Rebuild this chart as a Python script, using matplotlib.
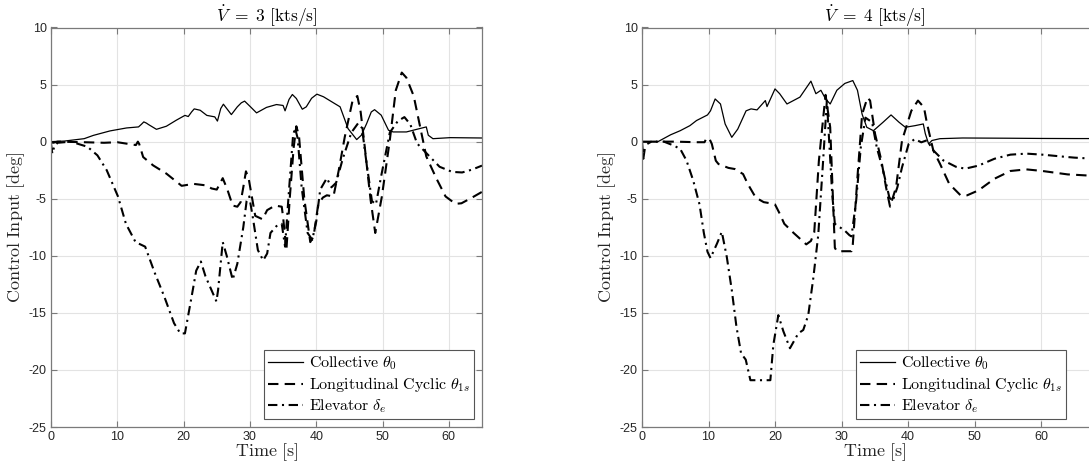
import matplotlib
matplotlib.use("Agg")
import matplotlib.pyplot as plt

plt.rcParams['mathtext.fontset'] = 'cm'

# ---------------- data: V_dot = 3 kts/s ----------------
t3_coll = [0, 2, 5, 6.4, 8.9, 11.4, 13.2, 13.6, 14.0, 14.4, 14.7, 15.9, 17.4, 18.9, 20.2, 20.7, 21.2, 21.6, 22.5,
           23.5, 24.7, 25.1, 25.6, 26.0, 26.7, 27.2, 28.1, 28.7, 29.2, 30.0, 31.0, 32.5, 34.0, 35.0, 35.3, 35.9,
           36.4, 37.0, 37.9, 38.5, 39.3, 40.1, 41.1, 42.6, 43.6, 44.8, 46.1, 46.8, 47.6, 48.3, 48.8, 49.8,
           50.9, 51.6, 53.6, 56.6, 56.9, 57.6, 60.2, 65]
v3_coll = [0, 0.05, 0.26, 0.55, 0.94, 1.2, 1.29, 1.5, 1.73, 1.62, 1.5, 1.08, 1.35, 1.88, 2.3, 2.2, 2.6, 2.87, 2.75,
           2.3, 2.17, 1.8, 2.9, 3.28, 2.75, 2.37, 3.05, 3.4, 3.55, 3.1, 2.52, 3.0, 3.25, 3.17, 2.7, 3.7,
           4.13, 3.78, 2.84, 3.05, 3.8, 4.16, 3.93, 3.4, 3.05, 1.14, 0.18, 0.56, 1.58, 2.6, 2.8, 2.32,
           1.0, 0.85, 0.85, 1.29, 0.56, 0.26, 0.35, 0.32]

t3_cyc = [0, 0.3, 1, 5, 8, 10, 12.8, 13.1, 13.3, 13.9, 15.4, 17.4, 19.7, 21.5, 23.5, 24.2, 25.0, 25.9, 26.6,
          27.4, 28.1, 28.6, 29.0, 29.4, 29.8, 30.8, 31.9, 32.6, 33.8, 34.8, 35.0, 35.5, 36.0, 36.6, 37.0,
          37.4, 38.2, 39.1, 39.6, 40.3, 41.0, 41.6, 42.6, 43.4, 44.3, 45.5, 46.2, 46.7, 47.2, 48.2, 48.9,
          49.9, 51.1, 52.0, 52.9, 53.6, 54.7, 56.6, 58.1, 59.5, 61.0, 61.9, 63.5, 65]
v3_cyc = [0, -0.1, 0, -0.05, -0.1, -0.05, -0.3, 0.0, -0.2, -1.35, -2.08, -2.8, -3.87, -3.7, -3.84, -4.1, -4.2,
          -3.2, -4.2, -5.6, -5.7, -5.3, -4.0, -2.6, -3.2, -6.5, -6.8, -6.0, -5.6, -5.7, -6.6, -9.5, -5.0,
          -0.5, 1.35, 0.5, -5.0, -8.8, -8.3, -5.5, -4.9, -4.7, -4.8, -2.5, 0.4, 3.65, 4.0, 2.6, 0.15, -5.1,
          -8.0, -4.8, 0.15, 4.5, 6.05, 5.6, 4.0, -1.3, -3.2, -4.8, -5.45, -5.4, -4.9, -4.4]

t3_elev = [0, 0.2, 0.5, 1, 3, 5.5, 7, 8.4, 10.1, 11.3, 12.75, 14.2, 15.65, 17.1, 18.55, 19.5, 20.2, 21.2, 21.9,
           22.6, 23.3, 24.95, 25.2, 25.9, 26.5, 27.4, 28.1, 29.0, 29.5, 29.9, 30.4, 31.2, 32.0, 32.6, 33.1,
           34.0, 34.8, 35.3, 35.8, 36.5, 36.8, 37.2, 37.8, 38.7, 39.4, 40.0, 40.6, 41.6, 42.3, 43.0, 44.0,
           45.3, 46.3, 46.9, 47.5, 48.4, 49.0, 49.8, 51.1, 52.3, 53.3, 54.2, 55.2, 56.6, 58.6, 60.5, 62,
           63.5, 65]
v3_elev = [-0.2, -1.05, -0.4, -0.1, 0, -0.45, -1.2, -2.5, -4.8, -7.2, -8.8, -9.2, -11.5, -13.6, -15.9, -16.8,
           -16.8, -13.6, -11.3, -10.5, -11.8, -14.0, -13.0, -8.8, -10.0, -12.1, -10.7, -7.5, -5.2, -4.8,
           -6.5, -9.5, -10.4, -9.8, -8.0, -7.4, -7.2, -9.2, -5.0, 0.5, 1.2, 0.3, -4.0, -8.0, -8.6, -7.0,
           -4.2, -3.2, -4.0, -3.6, -1.5, 0.8, 1.6, 1.2, -1.5, -5.2, -5.5, -3.0, 0.8, 1.8, 2.15, 1.5, -0.15,
           -1.0, -2.2, -2.65, -2.7, -2.45, -2.1]

# ---------------- data: V_dot = 4 kts/s ----------------
t4_coll = [0, 2.4, 4.3, 5.75, 7.2, 8.2, 9.85, 10.3, 11.0, 11.8, 12.5, 13.5, 14.4, 15.65, 16.4, 17.3, 18.55,
           18.8, 20.0, 20.7, 21.8, 23.75, 25.4, 26.15, 26.9, 27.6, 28.3, 29.3, 30.5, 31.7, 32.4, 33.1, 33.8,
           34.8, 36.25, 37.45, 38.65, 39.6, 41.05, 42.3, 42.6, 43.1, 43.6, 44.8, 48.2, 55, 60, 65, 68]
v4_coll = [0, 0, 0.6, 0.96, 1.4, 1.85, 2.34, 2.7, 3.74, 3.3, 1.55, 0.38, 1.1, 2.7, 2.87, 2.78, 3.6, 3.07,
           4.62, 4.2, 3.3, 3.9, 5.3, 4.2, 4.5, 3.75, 3.3, 4.5, 5.1, 5.35, 4.5, 2.4, 1.26, 0.96, 1.7, 2.34,
           1.7, 1.26, 1.4, 1.55, 0.7, -0.2, 0.1, 0.26, 0.32, 0.3, 0.28, 0.27, 0.27]

t4_cyc = [0, 0.2, 0.5, 1.4, 5, 8.2, 9.4, 9.7, 10.1, 10.5, 11.1, 11.5, 13.0, 13.96, 15.2, 15.9, 17.1, 18.3,
          19.3, 20.0, 20.7, 21.4, 22.8, 24.7, 25.4, 25.9, 26.6, 27.6, 28.3, 29.0, 29.3, 31.5, 31.7, 32.4,
          33.1, 33.9, 34.3, 35.05, 36.0, 36.7, 37.3, 38.2, 39.1, 40.5, 41.5, 42.4, 42.85, 43.8, 44.8, 46.2,
          47.9, 48.9, 50.6, 53.0, 55.4, 57.8, 60.2, 64, 65, 68]
v4_cyc = [0, -1.5, -0.3, 0, 0, -0.05, -0.05, 0.3, 0.3, -0.2, -1.67, -1.96, -2.3, -2.4, -2.84, -3.7, -4.9,
          -5.3, -5.4, -5.5, -6.3, -7.2, -8.0, -9.0, -8.7, -7.95, -1.67, 4.1, 1.26, -9.3, -9.6, -9.6, -9.0,
          -3.1, 2.4, 3.85, 3.6, 0.67, -1.67, -4.0, -5.7, -4.0, 0.1, 2.7, 3.6, 3.0, 1.6, -0.76, -1.93, -3.7,
          -4.7, -4.7, -4.27, -3.25, -2.57, -2.43, -2.57, -2.87, -2.9, -3.0]

t4_elev = [0, 3.3, 4.8, 5.75, 6.7, 7.7, 8.65, 9.3, 9.85, 10.3, 11.3, 12.0, 12.75, 13.5, 14.2, 14.9, 15.6,
           16.3, 19.3, 19.75, 20.5, 21.25, 22.25, 23.5, 24.25, 25.0, 25.75, 26.5, 27.2, 27.8, 28.6, 29.0,
           30.5, 31.2, 31.5, 32.2, 32.9, 33.6, 34.6, 35.3, 36.25, 37.2, 37.7, 38.4, 39.1, 40.1, 41.0, 42.0,
           42.85, 43.8, 45.3, 47.2, 48.6, 50.6, 53.0, 55.4, 57.8, 60.2, 64, 65, 68]
v4_elev = [0, 0, -0.35, -0.64, -1.67, -3.4, -5.5, -8.0, -9.65, -10.2, -8.9, -7.9, -10.1, -13.0, -16.2,
           -18.55, -19.1, -20.9, -20.9, -17.8, -15.2, -16.6, -18.1, -16.8, -16.5, -15.2, -12.0, -8.2, -2.0,
           3.6, -4.6, -7.2, -7.8, -8.2, -8.3, -5.2, -0.5, 2.1, 1.7, -0.5, -2.5, -4.9, -5.2, -4.0, -2.25,
           -0.2, 0.23, -0.06, 0.12, -0.76, -1.64, -2.2, -2.37, -2.1, -1.5, -1.14, -1.05, -1.14, -1.35, -1.4,
           -1.5]

titles = [r'$\dot{V}\ =\ 3\ \mathrm{[kts/s]}$', r'$\dot{V}\ =\ 4\ \mathrm{[kts/s]}$']
legend_labels = [r'$\mathrm{Collective}\ \theta_0$',
                 r'$\mathrm{Longitudinal\ Cyclic}\ \theta_{1s}$',
                 r'$\mathrm{Elevator}\ \delta_e$']
xticks = [0, 10, 20, 30, 40, 50, 60]
yticks = [-25, -20, -15, -10, -5, 0, 5, 10]

W, H = 1089, 470
fig = plt.figure(figsize=(W / 100, H / 100), dpi=100)

panels = [
    (t3_coll, v3_coll, t3_cyc, v3_cyc, t3_elev, v3_elev, (0, 65), [51 / W, 43 / H, 431 / W, 399.5 / H]),
    (t4_coll, v4_coll, t4_cyc, v4_cyc, t4_elev, v4_elev, (0, 70), [642 / W, 43 / H, 465.5 / W, 399.5 / H]),
]

tickfont = {'family': 'Liberation Sans', 'size': 9}

for i, (tc, vc, tcy, vcy, te, ve, xl, pos) in enumerate(panels):
    ax = fig.add_axes(pos)
    l1, = ax.plot(tc, vc, color='black', lw=0.9, ls='-')
    l2, = ax.plot(tcy, vcy, color='black', lw=1.5, ls=(0, (5, 3)))
    l3, = ax.plot(te, ve, color='black', lw=1.5, ls=(0, (4.5, 2.2, 1, 2.2)))
    ax.set_xlim(*xl)
    ax.set_ylim(-25, 10)
    ax.set_xticks(xticks)
    ax.set_yticks(yticks)
    ax.set_xticklabels([str(x) for x in xticks], fontdict=tickfont, color='#262626')
    ax.set_yticklabels([str(y) for y in yticks], fontdict=tickfont, color='#262626')
    ax.grid(True, color='#e3e3e3', lw=0.8)
    ax.set_axisbelow(True)
    for s in ax.spines.values():
        s.set_color('#7a7a7a')
        s.set_linewidth(0.9)
    ax.tick_params(direction='in', top=True, right=True, length=4, width=0.8,
                   color='#7a7a7a', pad=3)
    ax.set_title(titles[i], fontsize=12.5, pad=4)
    ax.set_xlabel(r'$\mathrm{Time\ [s]}$', fontsize=13, labelpad=-1, color='#262626')
    ax.set_ylabel(r'$\mathrm{Control\ Input\ [deg]}$', fontsize=13, labelpad=1, color='#262626')
    leg = ax.legend([l1, l2, l3], legend_labels, loc='lower right', fontsize=11.5,
                    fancybox=False, framealpha=1, edgecolor='#555555',
                    handlelength=2.2, handletextpad=0.4, borderpad=0.25, labelspacing=0.2,
                    borderaxespad=0.5)
    leg.get_frame().set_linewidth(0.8)
    if i == 1:
        # place the legend's right edge at x = 65, as in the reference
        leg.set_bbox_to_anchor((ax.transData.transform((65, 0))[0] / fig.dpi / fig.get_figwidth(), pos[1]),
                               transform=fig.transFigure)

fig.savefig('out.png', dpi=100)
